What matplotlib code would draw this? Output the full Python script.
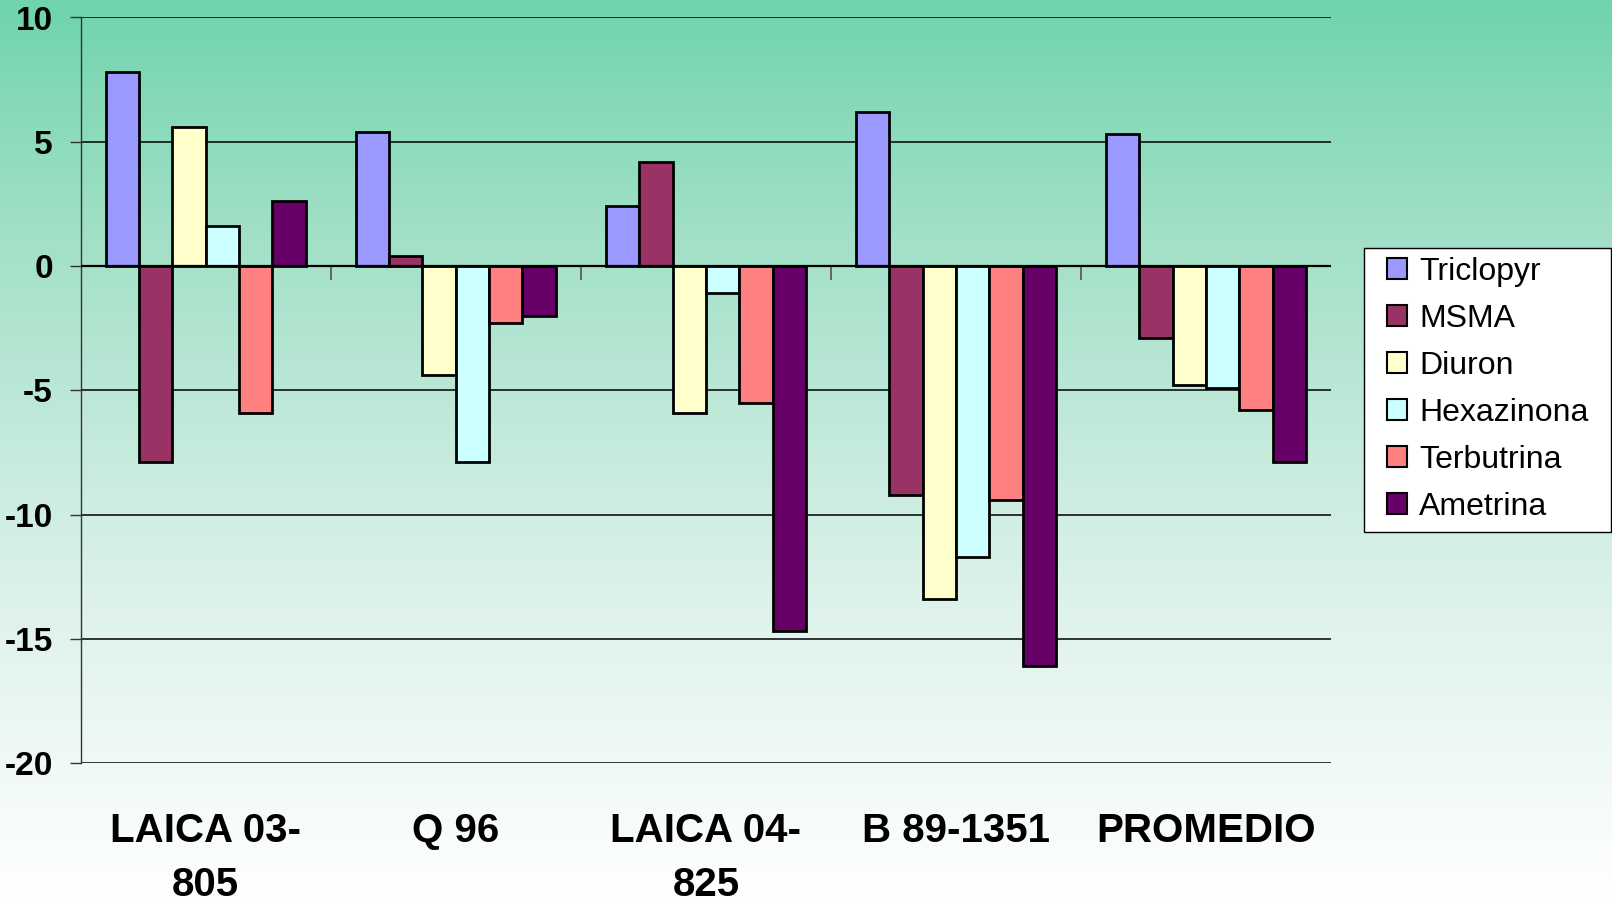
import numpy as np
import matplotlib
matplotlib.use("Agg")
import matplotlib.pyplot as plt
from matplotlib.colors import LinearSegmentedColormap
from matplotlib.patches import Rectangle
from matplotlib.transforms import blended_transform_factory

# Data: change per variety for each herbicide
categories = ["LAICA 03-\n805", "Q 96", "LAICA 04-\n825", "B 89-1351", "PROMEDIO"]
herbicides = ["Triclopyr", "MSMA", "Diuron", "Hexazinona", "Terbutrina", "Ametrina"]
triclopyr = [7.8, 5.4, 2.4, 6.2, 5.3]
msma = [-7.9, 0.4, 4.2, -9.2, -2.9]
diuron = [5.6, -4.4, -5.9, -13.4, -4.8]
hexazinona = [1.6, -7.9, -1.1, -11.7, -4.9]
terbutrina = [-5.9, -2.3, -5.5, -9.4, -5.8]
ametrina = [2.6, -2.0, -14.7, -16.1, -7.9]
series = [triclopyr, msma, diuron, hexazinona, terbutrina, ametrina]
colors = ["#9999FF", "#993366", "#FFFFCC", "#CCFFFF", "#FF8080", "#660066"]
yticks = [10, 5, 0, -5, -10, -15, -20]

W, H, DPI = 1612, 905, 100
fig = plt.figure(figsize=(W / DPI, H / DPI), dpi=DPI)

# Vertical green-to-white background
bg = fig.add_axes([0, 0, 1, 1], zorder=-10)
bg.axis("off")
cmap = LinearSegmentedColormap.from_list(
    "bg",
    [(0.0, "#6fd4ae"), (0.243, "#9fdfc6"), (0.64, "#daf1e8"), (0.97, "#fdfefe"), (1.0, "#ffffff")],
)
grad = np.linspace(0, 1, 512).reshape(-1, 1)
bg.imshow(grad, aspect="auto", cmap=cmap, extent=[0, 1, 0, 1], origin="upper")
bg.set_xlim(0, 1)
bg.set_ylim(0, 1)

left, right = 80.7 / W, 1331 / W
bottom, top = 1 - 763 / H, 1 - 17.5 / H
ax = fig.add_axes([left, bottom, right - left, top - bottom])
ax.patch.set_alpha(0)

n = len(herbicides)
width = 1 / (n + 1.5)
x = np.arange(len(categories))
handles = []
for i, (name, vals, c) in enumerate(zip(herbicides, series, colors)):
    b = ax.bar(x + (i - (n - 1) / 2) * width, vals, width, color=c,
               edgecolor="black", linewidth=2.0, label=name, zorder=3)
    handles.append(b)

ax.set_xlim(-0.5, len(categories) - 0.5)
ax.set_ylim(-20, 10)
ax.set_yticks(yticks)
ax.set_yticklabels([str(v) for v in yticks])
ax.yaxis.grid(True, color="black", linewidth=1.1, zorder=0)
ax.set_axisbelow(True)
for s in ["top", "right", "bottom"]:
    ax.spines[s].set_visible(False)
ax.spines["left"].set_color("#333333")
ax.spines["left"].set_linewidth(1.0)
ax.tick_params(axis="y", direction="out", length=8, width=1.0, color="#333333",
               pad=12, labelsize=24)
for lab in ax.get_yticklabels():
    lab.set_fontfamily("Liberation Sans")
    lab.set_fontweight("bold")

# Zero line with category boundary ticks
ax.axhline(0, color="black", linewidth=1.6, zorder=4)
bounds = np.arange(0.5, len(categories) - 0.5, 1.0)
ax.vlines(bounds, -0.55, 0, color="#666666", linewidth=1.4, zorder=2)
ax.set_xticks([])

trans = blended_transform_factory(ax.transData, fig.transFigure)
for xi, cat in zip(x, categories):
    ax.text(xi, 1 - 812 / H, cat, transform=trans, ha="center", va="top",
            fontsize=29, fontweight="bold", family="Liberation Sans",
            linespacing=1.52)

# Legend box
fig.patches.append(Rectangle((1364 / W, 1 - 532 / H), (1610.5 - 1364) / W, (532 - 248) / H,
                             transform=fig.transFigure, facecolor="white",
                             edgecolor="black", linewidth=1.0, zorder=5))
leg = fig.legend(handles=handles, labels=herbicides, loc="upper left",
                 bbox_to_anchor=(1387 / W, 1 - 257 / H), frameon=False,
                 prop={"family": "Liberation Sans", "size": 23},
                 handlelength=0.62, handleheight=0.62, handletextpad=0.38,
                 labelspacing=0.53, borderpad=0, borderaxespad=0)
leg.set_zorder(6)
for h in leg.legend_handles:
    h.set_linewidth(1.5)

fig.savefig("out.png", dpi=DPI)
